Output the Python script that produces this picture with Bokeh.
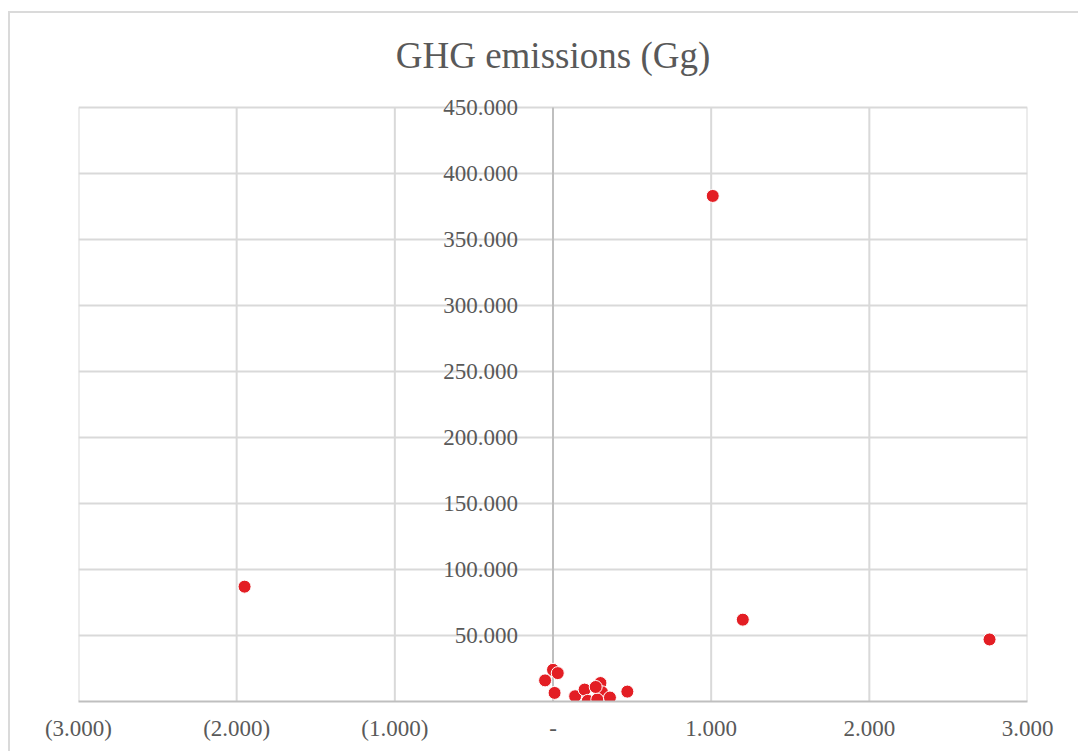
from bokeh.plotting import figure
from bokeh.models import Range1d, FixedTicker, LinearAxis
from bokeh.embed import file_html
from bokeh.resources import INLINE

# data
x_vals = [-1.95, 1.01, 1.20, 2.76, 0.00, 0.03, -0.05, 0.01, 0.14, 0.20, 0.22, 0.30, 0.31, 0.28, 0.36, 0.47, 0.27]
y_vals = [87, 383, 62, 47, 24, 21.5, 16, 6.5, 4, 9, 0.5, 14, 7, 1.5, 3, 7.5, 11]

x_ticks = [-3, -2, -1, 0, 1, 2, 3]
x_labels = ["(3.000)", "(2.000)", "(1.000)", "-", "1.000", "2.000", "3.000"]
y_ticks = [0, 50, 100, 150, 200, 250, 300, 350, 400, 450]
y_labels = ["-", "50.000", "100.000", "150.000", "200.000", "250.000", "300.000", "350.000", "400.000", "450.000"]

FONT = "Liberation Serif"
GREY = "#595959"
GRID = "#D9D9D9"

Y_MAX = 450
FRAME_H = 607
y_top = Y_MAX * FRAME_H / 594  # small headroom so the top tick label is not clipped

p = figure(width=1068, height=738, frame_width=949, frame_height=FRAME_H,
           output_backend="svg", toolbar_location=None,
           x_range=Range1d(-3, 3), y_range=Range1d(0, y_top),
           y_axis_location=None,
           min_border_left=68, min_border_right=51, min_border_top=81, min_border_bottom=50,
           title="GHG emissions (Gg)")
p.styles = {"margin-left": "8px", "margin-top": "11px",
            "border-left": "2px solid #DADADA", "border-top": "2px solid #DADADA"}
p.title.align = "center"
p.title.text_font = FONT
p.title.text_font_size = "37px"
p.title.text_font_style = "normal"
p.title.text_color = GREY
p.title.standoff = 37

p.outline_line_color = None
p.background_fill_color = "white"
p.border_fill_color = "white"

xa = p.xaxis[0]
xa.ticker = FixedTicker(ticks=x_ticks)
xa.major_label_overrides = {t: l for t, l in zip(x_ticks, x_labels)}
xa.major_label_text_font = FONT
xa.major_label_text_font_size = "23px"
xa.major_label_text_color = GREY
xa.major_tick_line_color = None
xa.minor_tick_line_color = None
xa.axis_line_color = "#BFBFBF"
xa.axis_line_width = 2
xa.major_label_standoff = 8

# gridlines: vertical ones stop at the top value line
p.xgrid.visible = False
p.segment(x0=x_ticks, y0=[0] * len(x_ticks), x1=x_ticks, y1=[Y_MAX] * len(x_ticks),
          line_color=GRID, line_width=2)
p.ygrid.ticker = FixedTicker(ticks=y_ticks)
p.ygrid.grid_line_color = GRID
p.ygrid.grid_line_width = 2

# vertical value axis crossing at x = 0
p.segment(x0=[0], y0=[0], x1=[0], y1=[Y_MAX], line_color="#BFBFBF", line_width=2)
ya = LinearAxis(fixed_location=0, ticker=FixedTicker(ticks=y_ticks))
ya.major_label_overrides = {t: l for t, l in zip(y_ticks, y_labels)}
ya.major_label_text_font = FONT
ya.major_label_text_font_size = "23px"
ya.major_label_text_color = GREY
ya.major_tick_line_color = None
ya.minor_tick_line_color = None
ya.axis_line_color = None
ya.major_label_standoff = 29
p.add_layout(ya, "left")

p.scatter(x_vals, y_vals, size=13, fill_color="#E31E24", line_color="white", line_width=1)

open("out.html", "w").write(file_html(p, INLINE))
